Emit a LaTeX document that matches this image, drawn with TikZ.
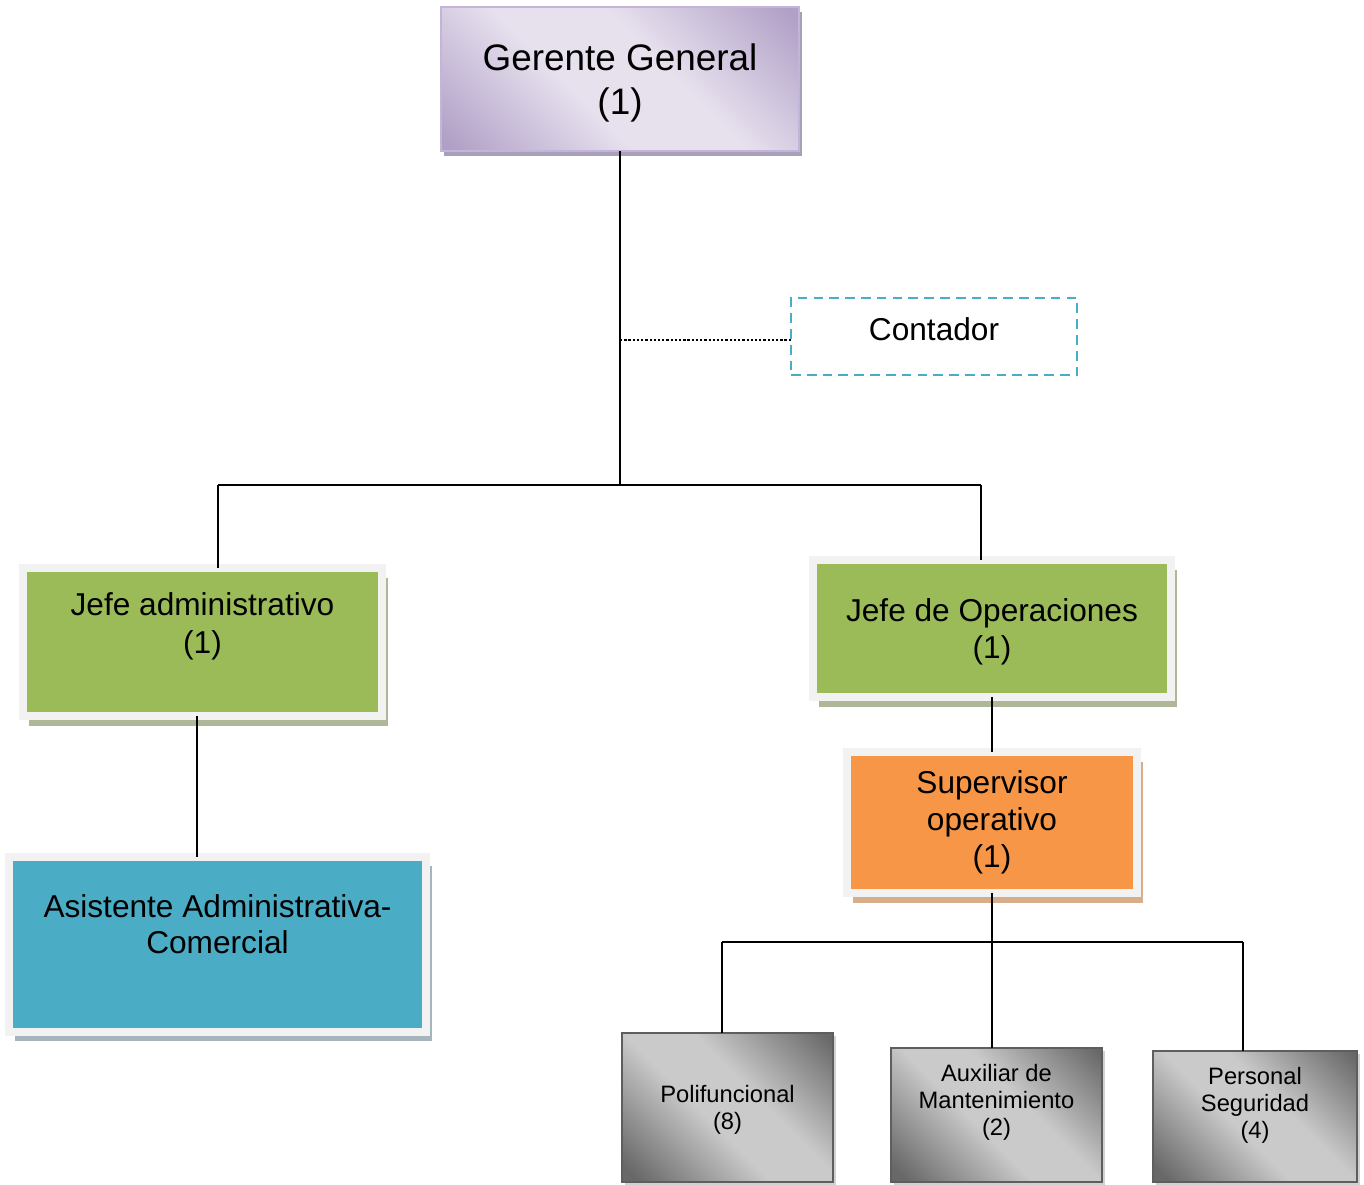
\documentclass[tikz,border=0pt]{standalone}
\usepackage{fontspec}
\setmainfont{Liberation Sans}
\usetikzlibrary{shadows}

\definecolor{lilaclaro}{HTML}{E7E1EE}
\definecolor{lilaosc}{HTML}{B09FC6}
\definecolor{lilaborde}{HTML}{C3B4DA}
\definecolor{lilasombra}{HTML}{A8A0B8}
\definecolor{verde}{HTML}{9BBB59}
\definecolor{verdesombra}{HTML}{AEB798}
\definecolor{celeste}{HTML}{4BACC6}
\definecolor{celestesombra}{HTML}{A6B4BE}
\definecolor{naranja}{HTML}{F79646}
\definecolor{naranjasombra}{HTML}{D6AE8C}
\definecolor{marcogris}{HTML}{F2F2F2}
\definecolor{grisclaro}{HTML}{CACACA}
\definecolor{grisosc}{HTML}{686868}
\definecolor{grisborde}{HTML}{5E5E5E}

\pgfdeclarehorizontalshading{lila}{100bp}{color(0bp)=(lilaosc); color(16bp)=(lilaosc); color(42bp)=(lilaclaro); color(58bp)=(lilaclaro); color(84bp)=(lilaosc); color(100bp)=(lilaosc)}
\pgfdeclarehorizontalshading{gris}{100bp}{color(0bp)=(grisosc); color(18bp)=(grisosc); color(44bp)=(grisclaro); color(58bp)=(grisclaro); color(84bp)=(grisosc); color(100bp)=(grisosc)}

\begin{document}
\begin{tikzpicture}[x=0.02cm, y=-0.02cm,
   caja/.style={rectangle, inner sep=0pt, outer sep=0pt, align=center},
   marco/.style={caja, draw=marcogris, line width=0.16cm},
   grande/.style={font=\fontsize{18}{21.5}\selectfont},
   chica/.style={font=\fontsize{13.5}{15.3}\selectfont},
   sombra/.style={drop shadow={shadow xshift=0.12cm, shadow yshift=-0.19cm, fill=#1, opacity=1}},
   puesto/.style={caja, chica, draw=grisborde, line width=1.2pt, shading=gris, shading angle=45,
      drop shadow={shadow xshift=0.06cm, shadow yshift=-0.06cm, fill=black!18, opacity=1}},
   linea/.style={line width=1pt}]
   \useasboundingbox (0,0) rectangle (1364,1184);

   % cajas
   \node[caja, draw=lilaborde, line width=1.2pt, shading=lila, shading angle=45,
      minimum width=7.16cm, minimum height=2.88cm, font=\fontsize{21}{25}\selectfont, text depth=0pt,
      drop shadow={shadow xshift=0.06cm, shadow yshift=-0.1cm, fill=lilasombra, opacity=1}]
      (gerente) at (620,79) {Gerente General\\(1)};
   \node[caja, grande, draw=celeste, line width=1.1pt, dash pattern=on 5.5pt off 3.5pt,
      minimum width=5.72cm, minimum height=1.54cm, text depth=9pt]
      (contador) at (934,336.5) {Contador};
   \node[marco, grande, fill=verde, minimum width=7.18cm, minimum height=2.96cm,
      text depth=21.6pt, sombra=verdesombra] (admin) at (202.5,642) {Jefe administrativo\\(1)};
   \node[marco, fill=celeste, minimum width=8.34cm, minimum height=3.5cm,
      font=\fontsize{18}{20.4}\selectfont, text depth=22.3pt, sombra=celestesombra]
      (asistente) at (217.5,944) {Asistente Administrativa-\\Comercial};
   \node[marco, grande, fill=verde, minimum width=7.16cm, minimum height=2.74cm, text depth=0pt,
      sombra=verdesombra] (ops) at (992,628.5) {Jefe de Operaciones\\(1)};
   \node[marco, fill=naranja, minimum width=5.8cm, minimum height=2.82cm,
      font=\fontsize{18}{21}\selectfont, sombra=naranjasombra]
      (sup) at (992,822.5) {Supervisor\\operativo\\(1)};
   \node[puesto, minimum width=4.22cm, minimum height=2.98cm, text depth=0pt]
      (poli) at (727.5,1107.5) {Polifuncional\\(8)};
   \node[puesto, minimum width=4.22cm, minimum height=2.68cm, text depth=17.5pt]
      (aux) at (996.5,1115) {Auxiliar de\\Mantenimiento\\(2)};
   \node[puesto, minimum width=4.08cm, minimum height=2.62cm, text depth=15.3pt]
      (pers) at (1255,1116.5) {Personal\\Seguridad\\(4)};

   % lineas
   \coordinate (cruce) at (620,485);
   \coordinate (izq) at (218,485);
   \coordinate (der) at (981,485);
   \coordinate (punto) at ([yshift=-0.07cm]contador.west);
   \coordinate (bajada) at (197,718);
   \coordinate (cruce2) at (992,942);
   \coordinate (izq2) at (722,942);
   \coordinate (der2) at (1243,942);
   \draw[linea] (gerente.south) -- (cruce);
   \draw[line width=1.4pt, dash pattern=on 1.3pt off 1.1pt] (cruce |- punto) -- (punto);
   \draw[linea] (izq) -- (der);
   \draw[linea] (izq) -- (izq |- admin.north);
   \draw[linea] (der) -- (der |- ops.north);
   \draw[linea] (bajada |- admin.south) -- (bajada |- asistente.north);
   \draw[linea] (ops.south) -- (sup.north);
   \draw[linea] (sup.south) -- (cruce2 |- aux.north);
   \draw[linea] (izq2) -- (der2);
   \draw[linea] (izq2) -- (izq2 |- poli.north);
   \draw[linea] (der2) -- (der2 |- pers.north);
\end{tikzpicture}
\end{document}
